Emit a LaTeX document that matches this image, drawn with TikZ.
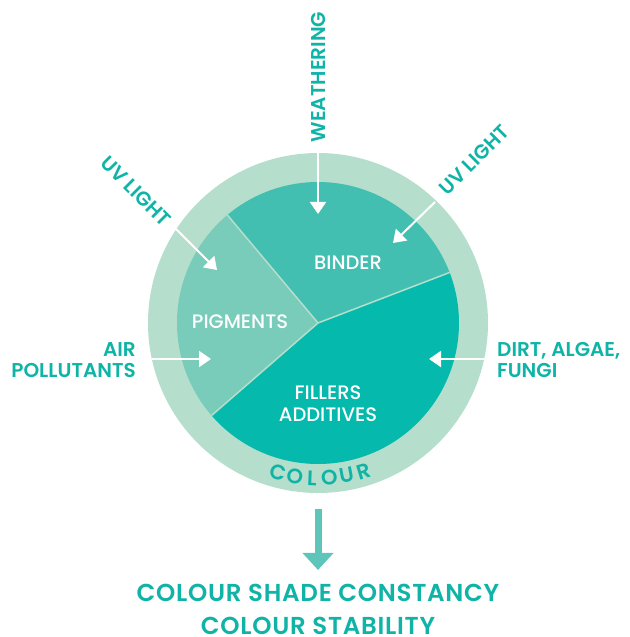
\documentclass[tikz,border=0pt]{standalone}
\usepackage{fontspec}
\setmainfont{Poppins}[UprightFont=* Medium, BoldFont=* SemiBold]
\usetikzlibrary{arrows.meta}

\definecolor{ringc}{HTML}{B5DFCC}
\definecolor{binderc}{HTML}{43BFB1}
\definecolor{pigc}{HTML}{79CBBA}
\definecolor{fillc}{HTML}{05B9AD}
\definecolor{tealtxt}{HTML}{0FB4A7}
\definecolor{downc}{HTML}{5EC5BB}

\tikzset{
  hit/.style={draw=white, line width=2pt, -{Triangle[width=16pt,length=12pt]}},
  lbl/.style={text=tealtxt, font=\bfseries\fontsize{20}{21}\selectfont, inner sep=0pt},
  part/.style={text=white, font=\fontsize{19.5}{22}\selectfont, align=center, inner sep=0pt},
  ringtxt/.style={text=tealtxt, font=\bfseries\fontsize{21}{21}\selectfont, inner sep=0pt},
}

\begin{document}
\begin{tikzpicture}[x=1pt,y=1pt]
\useasboundingbox (0,0) rectangle (629,637);
\coordinate (ctr) at (318,314);

% ring and the three parts
\fill[ringc] (ctr) circle [radius=170];
\fill[binderc] (ctr) -- ++(21:141) arc (21:130:141) -- cycle;
\fill[pigc] (ctr) -- ++(130:141) arc (130:221:141) -- cycle;
\fill[fillc] (ctr) -- ++(221:141) arc (221:381:141) -- cycle;
\draw[ringc, line width=1.5pt] (ctr) -- ++(21:141);
\draw[ringc, line width=1.5pt] (ctr) -- ++(130:141);
\draw[ringc, line width=1.5pt] (ctr) -- ++(221:141);

\node[part] (pig) at (240,315) {PIGMENTS};
\node[part] (bind) at (348,374) {BINDER};
\node[part] (fill) at (328,233) {FILLERS\\ADDITIVES};

\foreach \ch [count=\i] in {C,O,L,O,U,R}
  \node[ringtxt, rotate={(\i-3.5)*6.4+1}] (col\i) at ([shift={({270+(\i-3.5)*6.4+1}:155)}]ctr) {\ch};

% outside influences
\coordinate (wS) at (318,484); \coordinate (wE) at (318,423);
\coordinate (urS) at (435,435); \coordinate (urE) at (393,394);
\coordinate (ulS) at (176,408); \coordinate (ulE) at (217,367);
\coordinate (aS) at (152,278); \coordinate (aE) at (211,278);
\coordinate (dS) at (485,278); \coordinate (dE) at (429,278);
\draw[hit] (wS) -- (wE);
\draw[hit] (urS) -- (urE);
\draw[hit] (ulS) -- (ulE);
\draw[hit] (aS) -- (aE);
\draw[hit] (dS) -- (dE);

\node[lbl, rotate=90] (weath) at (318,560) {WEATHERING};
\node[lbl, rotate=-45] (uvl) at (136,446) {UV LIGHT};
\node[lbl, rotate=45] (uvr) at (474,477) {UV LIGHT};
\node[lbl, align=right, anchor=east] (air) at (136,276.5) {AIR\\POLLUTANTS};
\node[lbl, align=left, anchor=west] (dirt) at (497,276.5) {DIRT, ALGAE,\\FUNGI};

% result
\coordinate (bS) at (318,128); \coordinate (bE) at (318,67);
\draw[downc, line width=7pt, -{Triangle[width=30pt,length=17pt]}] (bS) -- (bE);
\node[lbl, font=\bfseries\fontsize{24.5}{33}\selectfont\addfontfeature{LetterSpace=3}, align=center, anchor=south] (res) at (318,2)
  {COLOUR SHADE CONSTANCY\\COLOUR STABILITY};
\end{tikzpicture}
\end{document}
